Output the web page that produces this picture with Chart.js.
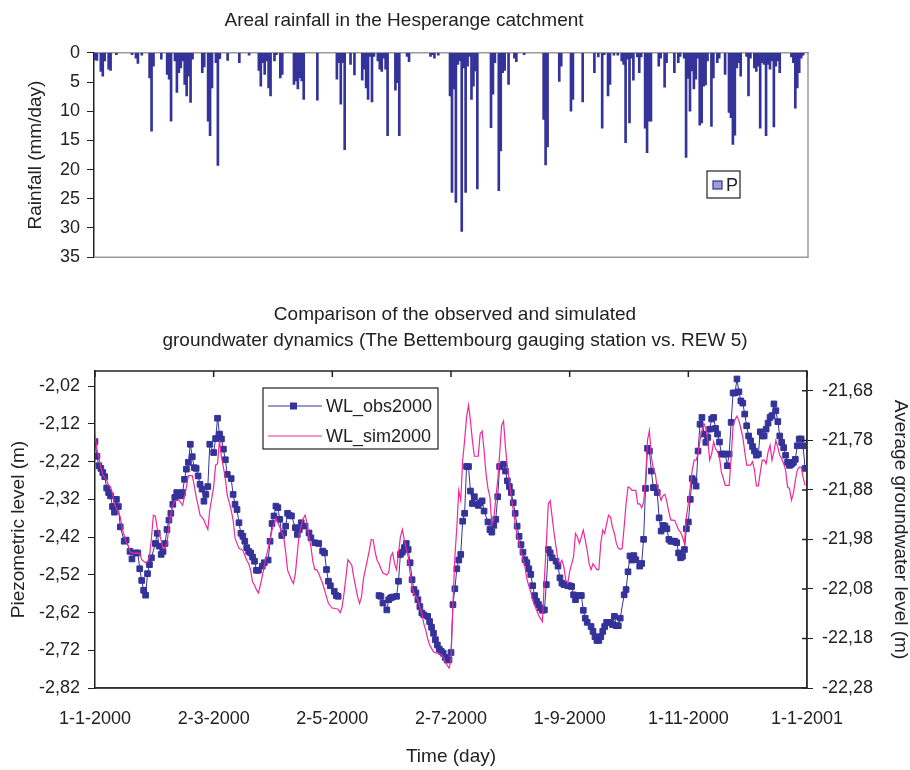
<!DOCTYPE html>
<html>
<head>
<meta charset="utf-8">
<title>Hesperange rainfall and groundwater</title>
<script src="https://cdn.jsdelivr.net/npm/chart.js@4.4.1/dist/chart.umd.min.js"></script>
<style>
  body { margin: 0; background: #fff; }
  #page { position: relative; width: 910px; height: 770px; }
  .panel { position: absolute; left: 0; width: 910px; }
</style>
</head>
<body>
<div id="page">
  <div class="panel" style="top:0;height:275px"><canvas id="rainChart"></canvas></div>
  <div class="panel" style="top:280px;height:490px"><canvas id="gwChart"></canvas></div>
</div>
<script>
// daily areal rainfall (mm/day), day 0 = 1-1-2000; days not listed had no rain
const rainDays = [
  0, 1, 3, 4, 5, 7, 8, 11, 19, 21, 22, 24, 28, 29, 30, 34, 37, 38, 39, 41,
  42, 43, 44, 45, 46, 47, 48, 49, 50, 55, 56, 58, 59, 60, 62, 63, 64, 68, 74, 79,
  84, 85, 86, 87, 88, 89, 90, 92, 93, 95, 96, 102, 103, 104, 105, 106, 107, 114, 124, 125,
  126, 127, 128, 131, 133, 137, 138, 139, 140, 141, 142, 143, 145, 146, 147, 148, 149, 150, 154, 155,
  156, 160, 161, 172, 173, 174, 176, 182, 183, 184, 185, 186, 187, 188, 189, 190, 191, 192, 193, 194,
  195, 196, 203, 204, 205, 207, 208, 209, 210, 212, 215, 216, 220, 230, 231, 232, 238, 239, 244, 245,
  250, 256, 258, 260, 261, 263, 264, 266, 268, 270, 271, 272, 273, 274, 275, 276, 278, 279, 280, 282,
  283, 284, 285, 289, 290, 292, 293, 297, 299, 300, 302, 303, 304, 305, 306, 307, 308, 309, 310, 311,
  312, 313, 314, 316, 317, 319, 320, 323, 325, 326, 327, 328, 329, 330, 331, 334, 335, 336, 338, 339,
  340, 341, 342, 343, 344, 345, 346, 347, 348, 349, 350, 351, 357, 358, 359, 360, 361, 362, 363
];
const rainMm = [
  1.2, 1.3, 3.2, 4.0, 1.4, 2.8, 3.0, 0.3, 0.3, 0.9, 1.8, 0.4, 4.3, 13.4, 2.3, 1.1, 3.7, 4.5, 11.7, 1.4,
  6.8, 3.4, 2.6, 1.4, 5.4, 7.4, 4.0, 8.5, 1.1, 3.4, 2.4, 11.7, 14.2, 6.0, 1.7, 19.3, 1.0, 1.3, 1.7, 0.4,
  3.0, 5.7, 1.7, 3.7, 1.4, 6.0, 7.4, 1.4, 0.3, 4.3, 3.7, 5.4, 4.8, 6.2, 4.3, 4.8, 8.0, 8.1, 4.5, 1.7,
  8.8, 1.7, 16.6, 2.0, 3.8, 4.7, 2.8, 6.0, 8.0, 0.6, 8.4, 0.6, 1.4, 2.8, 3.2, 0.9, 2.8, 14.2, 6.4, 5.1,
  14.2, 0.6, 1.5, 0.6, 0.3, 0.9, 0.4, 7.4, 23.9, 6.2, 25.6, 2.0, 1.4, 30.6, 2.6, 23.9, 2.3, 0.6, 8.0, 5.7,
  3.1, 23.3, 12.8, 7.1, 1.7, 23.6, 16.8, 3.4, 3.0, 5.4, 0.9, 1.5, 0.3, 11.4, 19.2, 16.1, 4.9, 2.3, 10.0, 8.0,
  8.4, 3.4, 0.7, 12.9, 0.3, 7.4, 5.4, 0.4, 0.4, 1.4, 2.0, 15.4, 1.1, 12.0, 0.9, 4.7, 0.7, 3.4, 0.7, 12.9,
  17.1, 11.7, 11.7, 2.3, 0.9, 5.9, 1.7, 3.4, 1.7, 0.6, 0.9, 17.9, 4.4, 10.0, 3.1, 6.2, 4.5, 0.9, 12.4, 12.0,
  5.7, 5.5, 1.4, 12.6, 4.3, 1.7, 0.9, 3.7, 10.2, 11.1, 15.7, 14.1, 2.6, 1.7, 4.0, 0.6, 7.4, 0.9, 2.6, 3.2,
  2.3, 12.9, 1.7, 2.0, 14.2, 2.0, 2.8, 1.4, 12.7, 2.3, 1.4, 3.4, 0.7, 1.7, 9.5, 6.0, 3.4, 0.9, 0.4
];

// observed piezometric level (m), gap in the record between day 125 and 146
const obsDays = [
  0, 1, 2, 3, 4, 5, 6, 7, 8, 9,
  10, 11, 12, 13, 15, 16, 18, 19, 21, 22,
  23, 24, 25, 26, 27, 28, 29, 31, 32, 33,
  34, 35, 36, 37, 38, 39, 40, 41, 42, 44,
  45, 46, 47, 48, 49, 50, 51, 52, 53, 54,
  55, 56, 57, 58, 59, 61, 62, 63, 64, 65,
  66, 67, 68, 70, 71, 72, 73, 74, 75, 76,
  77, 78, 79, 80, 81, 82, 83, 84, 86, 87,
  89, 90, 91, 92, 93, 94, 95, 96, 97, 98,
  99, 100, 101, 103, 104, 105, 106, 108, 110, 111,
  113, 115, 117, 118, 119, 120, 121, 123, 124, 125,
  135,
  146, 147, 148, 150, 151, 152, 153, 155, 156, 157,
  158, 159, 160, 161, 162, 163, 164, 165, 166, 167,
  168, 169, 171, 172, 173, 174, 175, 176, 177, 178,
  179, 180, 181, 182, 183, 184, 185, 186, 187, 188,
  189, 190, 191, 192, 193, 194, 195, 197, 198, 199,
  200, 202, 203, 204, 205, 206, 207, 208, 210, 211,
  212, 213, 214, 215, 216, 217, 218, 219, 220, 221,
  222, 223, 224, 225, 226, 227, 228, 229, 230, 231,
  232, 233, 234, 235, 237, 238, 239, 240, 241, 243,
  244, 245, 246, 247, 249, 250, 251, 252, 253, 255,
  256, 257, 258, 259, 260, 261, 262, 263, 265, 266,
  267, 268, 269, 270, 272, 273, 274, 275, 276, 277,
  278, 280, 281, 282, 283, 284, 285, 286, 287, 288,
  289, 290, 291, 292, 293, 294, 295, 296, 297, 298,
  299, 300, 301, 302, 303, 304, 305, 306, 307, 308,
  309, 310, 311, 312, 313, 314, 315, 316, 317, 318,
  319, 320, 321, 322, 323, 324, 325, 326, 327, 328,
  329, 330, 331, 332, 333, 334, 335, 336, 337, 338,
  339, 340, 341, 342, 343, 344, 345, 346, 347, 348,
  349, 350, 351, 352, 353, 354, 355, 356, 357, 358,
  359, 360, 361, 362, 363, 364, 365
];
const obsLevel = [
  -2.167, -2.206, -2.231, -2.238, -2.249, -2.260, -2.290, -2.302, -2.311, -2.339,
  -2.354, -2.320, -2.339, -2.393, -2.431, -2.428, -2.458, -2.478, -2.462, -2.462,
  -2.504, -2.535, -2.561, -2.574, -2.517, -2.493, -2.475, -2.437, -2.410, -2.444,
  -2.466, -2.458, -2.437, -2.400, -2.375, -2.357, -2.333, -2.315, -2.302, -2.311,
  -2.302, -2.267, -2.240, -2.222, -2.174, -2.207, -2.236, -2.238, -2.258, -2.280,
  -2.293, -2.325, -2.307, -2.286, -2.174, -2.196, -2.159, -2.105, -2.147, -2.160,
  -2.187, -2.215, -2.254, -2.265, -2.307, -2.333, -2.347, -2.382, -2.410, -2.418,
  -2.431, -2.448, -2.458, -2.462, -2.473, -2.484, -2.508, -2.508, -2.497, -2.488,
  -2.481, -2.431, -2.384, -2.364, -2.338, -2.342, -2.373, -2.416, -2.409, -2.391,
  -2.357, -2.363, -2.364, -2.395, -2.413, -2.400, -2.382, -2.391, -2.409, -2.422,
  -2.435, -2.437, -2.457, -2.462, -2.506, -2.537, -2.549, -2.564, -2.575, -2.577,
  null,
  -2.575, -2.577, -2.595, -2.613, -2.586, -2.581, -2.579, -2.577, -2.537, -2.466,
  -2.460, -2.448, -2.437, -2.453, -2.488, -2.533, -2.559, -2.568, -2.586, -2.604,
  -2.621, -2.626, -2.630, -2.644, -2.659, -2.675, -2.692, -2.706, -2.717, -2.723,
  -2.728, -2.739, -2.746, -2.745, -2.726, -2.599, -2.557, -2.504, -2.481, -2.466,
  -2.378, -2.357, -2.233, -2.233, -2.298, -2.331, -2.313, -2.336, -2.329, -2.324,
  -2.351, -2.380, -2.400, -2.407, -2.389, -2.373, -2.313, -2.233, -2.227, -2.245,
  -2.271, -2.286, -2.302, -2.329, -2.357, -2.391, -2.418, -2.440, -2.460, -2.480,
  -2.488, -2.504, -2.519, -2.549, -2.575, -2.590, -2.599, -2.608, -2.614, -2.613,
  -2.546, -2.453, -2.462, -2.475, -2.484, -2.497, -2.528, -2.542, -2.546, -2.549,
  -2.549, -2.551, -2.573, -2.586, -2.575, -2.575, -2.614, -2.635, -2.646, -2.657,
  -2.670, -2.684, -2.694, -2.694, -2.684, -2.670, -2.657, -2.646, -2.646, -2.652,
  -2.630, -2.655, -2.655, -2.635, -2.573, -2.559, -2.512, -2.470, -2.481, -2.469,
  -2.480, -2.497, -2.490, -2.426, -2.291, -2.185, -2.192, -2.245, -2.289, -2.289,
  -2.302, -2.369, -2.404, -2.389, -2.391, -2.398, -2.426, -2.431, -2.431, -2.431,
  -2.435, -2.462, -2.475, -2.471, -2.453, -2.398, -2.380, -2.320, -2.265, -2.271,
  -2.285, -2.192, -2.121, -2.103, -2.147, -2.169, -2.156, -2.134, -2.107, -2.103,
  -2.132, -2.147, -2.168, -2.200, -2.200, -2.200, -2.231, -2.200, -2.116, -2.038,
  -2.038, -2.001, -2.035, -2.059, -2.065, -2.094, -2.125, -2.152, -2.165, -2.180,
  -2.192, -2.203, -2.200, -2.141, -2.152, -2.152, -2.134, -2.118, -2.103, -2.098,
  -2.067, -2.085, -2.114, -2.152, -2.169, -2.183, -2.203, -2.222, -2.230, -2.227,
  -2.222, -2.214, -2.178, -2.160, -2.160, -2.178, -2.238
];

// simulated average groundwater level of REW 5 (m), right axis
const simDays = [
  0, 1, 2, 3, 4, 6, 7, 8, 9, 10,
  12, 13, 14, 15, 16, 17, 18, 20, 21, 23,
  24, 26, 27, 28, 29, 30, 31, 32, 33, 34,
  35, 36, 37, 38, 39, 40, 41, 42, 43, 44,
  45, 46, 47, 48, 50, 51, 52, 53, 54, 55,
  56, 57, 58, 59, 61, 62, 63, 64, 65, 66,
  67, 68, 69, 70, 71, 72, 73, 74, 76, 77,
  78, 79, 80, 81, 82, 83, 84, 85, 86, 87,
  88, 89, 90, 91, 92, 93, 95, 97, 98, 99,
  101, 102, 103, 104, 105, 107, 108, 109, 110, 111,
  112, 113, 114, 115, 117, 118, 119, 120, 122, 123,
  125, 126, 127, 128, 129, 130, 132, 133, 134, 135,
  136, 137, 138, 140, 141, 142, 143, 144, 145, 146,
  147, 148, 150, 151, 152, 153, 154, 155, 156, 157,
  158, 159, 161, 162, 163, 164, 166, 167, 168, 169,
  170, 171, 172, 174, 175, 176, 178, 179, 180, 182,
  183, 184, 185, 186, 187, 188, 189, 190, 191, 192,
  193, 194, 195, 196, 197, 198, 199, 200, 201, 202,
  203, 204, 205, 206, 207, 208, 209, 210, 211, 212,
  213, 214, 215, 216, 217, 218, 219, 220, 221, 222,
  223, 224, 225, 226, 227, 228, 230, 231, 232, 233,
  234, 235, 236, 237, 238, 239, 240, 241, 242, 243,
  244, 246, 247, 248, 249, 250, 251, 252, 253, 254,
  255, 256, 258, 259, 260, 261, 262, 263, 264, 265,
  266, 267, 268, 269, 270, 271, 272, 273, 274, 275,
  276, 278, 279, 280, 281, 282, 283, 284, 285, 286,
  287, 288, 289, 290, 291, 292, 293, 294, 295, 296,
  297, 298, 299, 300, 301, 302, 303, 304, 305, 306,
  307, 308, 309, 310, 311, 312, 313, 314, 315, 316,
  317, 318, 319, 320, 321, 322, 323, 324, 325, 326,
  327, 328, 329, 330, 331, 332, 333, 334, 335, 336,
  337, 338, 339, 340, 341, 342, 343, 344, 345, 346,
  347, 348, 349, 350, 351, 352, 353, 354, 355, 356,
  357, 358, 359, 360, 361, 362, 363, 364, 365
];
const simLevel = [
  -21.767, -21.797, -21.815, -21.834, -21.849, -21.861, -21.871, -21.874, -21.887, -21.908,
  -21.925, -21.935, -21.958, -21.972, -21.985, -21.992, -22.005, -22.008, -22.007, -22.008,
  -22.021, -22.027, -22.025, -22.015, -21.978, -21.931, -21.933, -21.958, -21.968, -21.982,
  -21.998, -21.999, -21.988, -21.955, -21.928, -21.911, -21.902, -21.901, -21.900, -21.905,
  -21.911, -21.894, -21.874, -21.851, -21.851, -21.871, -21.894, -21.911, -21.931, -21.935,
  -21.941, -21.951, -21.960, -21.921, -21.874, -21.830, -21.827, -21.780, -21.814, -21.834,
  -21.857, -21.891, -21.905, -21.921, -21.941, -21.978, -21.988, -21.998, -22.002, -22.012,
  -22.022, -22.029, -22.042, -22.066, -22.072, -22.082, -22.088, -22.072, -22.054, -22.035,
  -22.015, -21.998, -21.982, -21.961, -21.948, -21.938, -21.955, -21.975, -22.005, -22.042,
  -22.062, -22.069, -22.049, -22.008, -21.968, -21.938, -21.931, -21.948, -21.975, -21.995,
  -22.025, -22.041, -22.041, -22.049, -22.069, -22.082, -22.096, -22.109, -22.119, -22.119,
  -22.121, -22.128, -22.117, -22.089, -22.056, -22.021, -22.032, -22.056, -22.076, -22.096,
  -22.109, -22.096, -22.059, -22.022, -22.002, -21.980, -21.981, -22.005, -22.022, -22.029,
  -22.039, -22.048, -22.052, -22.046, -22.015, -22.007, -22.029, -22.041, -22.008, -21.975,
  -21.960, -21.981, -22.015, -22.049, -22.076, -22.089, -22.103, -22.117, -22.129, -22.150,
  -22.163, -22.180, -22.193, -22.207, -22.209, -22.209, -22.213, -22.217, -22.227, -22.240,
  -22.225, -22.109, -22.015, -21.955, -21.881, -21.901, -21.820, -21.780, -21.733, -21.709,
  -21.740, -21.780, -21.812, -21.812, -21.812, -21.767, -21.761, -21.800, -21.847, -21.877,
  -21.894, -21.950, -21.938, -21.898, -21.861, -21.807, -21.750, -21.741, -21.794, -21.834,
  -21.861, -21.894, -21.921, -21.948, -21.972, -21.988, -22.005, -22.019, -22.035, -22.059,
  -22.074, -22.086, -22.103, -22.113, -22.123, -22.133, -22.146, -22.060, -21.990, -21.908,
  -21.902, -21.935, -21.968, -21.995, -22.022, -22.029, -22.022, -22.035, -22.062, -22.069,
  -22.045, -22.015, -21.968, -21.975, -21.988, -21.975, -21.961, -21.981, -22.002, -22.029,
  -22.041, -22.029, -22.041, -22.041, -21.988, -21.961, -21.968, -21.948, -21.931, -21.935,
  -21.955, -21.968, -21.988, -21.998, -22.000, -21.998, -21.955, -21.908, -21.874, -21.876,
  -21.881, -21.881, -21.908, -21.908, -21.916, -21.905, -21.861, -21.780, -21.760, -21.814,
  -21.837, -21.847, -21.874, -21.887, -21.901, -21.891, -21.889, -21.905, -21.925, -21.941,
  -21.941, -21.942, -21.951, -21.961, -21.965, -21.975, -21.988, -21.935, -21.908, -21.874,
  -21.840, -21.820, -21.820, -21.807, -21.780, -21.760, -21.746, -21.756, -21.780, -21.820,
  -21.807, -21.783, -21.797, -21.803, -21.814, -21.844, -21.857, -21.871, -21.871, -21.871,
  -21.815, -21.750, -21.738, -21.731, -21.740, -21.756, -21.773, -21.803, -21.830, -21.830,
  -21.830, -21.823, -21.840, -21.872, -21.872, -21.844, -21.820, -21.820, -21.827, -21.803,
  -21.790, -21.820, -21.803, -21.780, -21.794, -21.810, -21.817, -21.827, -21.840, -21.874,
  -21.877, -21.901, -21.887, -21.861, -21.840, -21.834, -21.834, -21.854, -21.871
];

// axis ticks
const rainTicks = [0, 5, 10, 15, 20, 25, 30, 35];
const xTickDays = [0, 61, 122, 183, 244, 305, 366];
const xTickLabels = ['1-1-2000', '2-3-2000', '2-5-2000', '2-7-2000', '1-9-2000', '1-11-2000', '1-1-2001'];
const leftTicks = [-2.82, -2.72, -2.62, -2.52, -2.42, -2.32, -2.22, -2.12, -2.02];
const rightTicks = [-22.28, -22.18, -22.08, -21.98, -21.88, -21.78, -21.68];

Chart.defaults.font.family = '"Liberation Sans", Arial, sans-serif';
Chart.defaults.color = '#222';

const textColor = '#222';
const comma = v => Number(v).toFixed(2).replace('.', ',');

// right and bottom edges of the plot frame
const framePlugin = {
  id: 'frame',
  afterDatasetsDraw(chart, args, opts) {
    const { ctx, chartArea: a } = chart;
    ctx.save();
    ctx.strokeStyle = opts.color;
    ctx.lineWidth = opts.width;
    ctx.beginPath();
    ctx.moveTo(a.left, a.bottom);
    ctx.lineTo(a.right, a.bottom);
    ctx.lineTo(a.right, a.top);
    ctx.stroke();
    ctx.restore();
  }
};

// Excel-like axis at the top with inward ticks, plus inner halves of the right axis ticks
const topAxisPlugin = {
  id: 'topAxis',
  afterDatasetsDraw(chart) {
    const { ctx, chartArea: a, scales } = chart;
    ctx.save();
    ctx.strokeStyle = '#222';
    ctx.lineWidth = 1.5;
    ctx.beginPath();
    ctx.moveTo(a.left, a.top);
    ctx.lineTo(a.right, a.top);
    scales.x.ticks.forEach(t => {
      const px = scales.x.getPixelForValue(t.value);
      ctx.moveTo(px, a.top);
      ctx.lineTo(px, a.top + 6);
    });
    scales.y2.ticks.forEach(t => {
      const py = scales.y2.getPixelForValue(t.value);
      ctx.moveTo(a.right - 5, py);
      ctx.lineTo(a.right, py);
    });
    ctx.stroke();
    ctx.restore();
  }
};

// boxed legend placed inside the plot
const boxLegendPlugin = {
  id: 'boxLegend',
  afterDraw(chart, args, o) {
    const { ctx } = chart;
    ctx.save();
    ctx.fillStyle = '#fff';
    ctx.fillRect(o.x, o.y, o.w, o.h);
    ctx.strokeStyle = '#222';
    ctx.lineWidth = 1.2;
    ctx.strokeRect(o.x, o.y, o.w, o.h);
    ctx.font = '18px "Liberation Sans", Arial, sans-serif';
    ctx.textBaseline = 'middle';
    chart.data.datasets.forEach((ds, i) => {
      const yy = o.y + o.row0 + i * o.rowGap;
      if (o.kind === 'bar') {
        ctx.fillStyle = '#9ea0d2';
        ctx.fillRect(o.x + 6, yy - 4, 9, 8);
        ctx.strokeStyle = ds.backgroundColor;
        ctx.lineWidth = 1.2;
        ctx.strokeRect(o.x + 6, yy - 4, 9, 8);
      } else {
        ctx.strokeStyle = ds.borderColor;
        ctx.lineWidth = ds.borderWidth;
        ctx.beginPath();
        ctx.moveTo(o.x + 5, yy);
        ctx.lineTo(o.x + o.lineLen, yy);
        ctx.stroke();
        if (ds.pointRadius > 0) {
          ctx.fillStyle = ds.backgroundColor;
          ctx.fillRect(o.x + 27, yy - 3.5, 7, 7);
        }
      }
      ctx.fillStyle = textColor;
      ctx.fillText(ds.label, o.x + o.textX, yy + 1);
    });
    ctx.restore();
  }
};

// rainfall chart
new Chart(document.getElementById('rainChart'), {
  type: 'bar',
  data: {
    datasets: [{
      label: 'P',
      data: rainDays.map((d, i) => ({ x: d, y: rainMm[i] })),
      backgroundColor: '#333399',
      borderWidth: 0,
      barThickness: 2
    }]
  },
  options: {
    responsive: true,
    maintainAspectRatio: false,
    animation: false,
    layout: { padding: { top: 0, left: 0, right: 102, bottom: 17 } },
    plugins: {
      legend: { display: false },
      tooltip: { enabled: false },
      title: {
        display: true,
        text: 'Areal rainfall in the Hesperange catchment',
        color: textColor,
        font: { size: 19, weight: 'normal' },
        padding: { top: 9, bottom: 21 }
      },
      frame: { color: '#9a9a9a', width: 1.5 },
      boxLegend: { kind: 'bar', x: 707, y: 171, w: 33, h: 27, row0: 14, rowGap: 0, textX: 19 }
    },
    scales: {
      x: {
        type: 'linear',
        position: 'top',
        offset: false,
        min: -0.5,
        max: 365.5,
        ticks: { display: false },
        grid: { display: false, offset: false },
        border: { color: '#9a9a9a', width: 1.5 },
        afterFit: s => { s.height = 0; }
      },
      y: {
        min: 0,
        max: 35,
        reverse: true,
        afterBuildTicks: s => { s.ticks = rainTicks.map(v => ({ value: v })); },
        ticks: { color: textColor, font: { size: 18 }, padding: 7 },
        grid: { drawOnChartArea: false, tickLength: 7, color: '#222' },
        border: { color: '#222', width: 1.5 },
        title: {
          display: true,
          text: 'Rainfall (mm/day)',
          color: textColor,
          font: { size: 19 },
          padding: { top: 24, bottom: 0 }
        },
        afterFit: s => { s.width = 94; }
      }
    }
  },
  plugins: [framePlugin, boxLegendPlugin]
});

// groundwater chart
new Chart(document.getElementById('gwChart'), {
  type: 'line',
  data: {
    datasets: [
      {
        label: 'WL_obs2000',
        data: obsDays.map((d, i) => ({ x: d, y: obsLevel[i] })),
        yAxisID: 'y',
        borderColor: '#333399',
        backgroundColor: '#333399',
        borderWidth: 1,
        pointStyle: 'rect',
        pointRadius: 4,
        pointBorderWidth: 1,
        pointBorderColor: '#333399',
        spanGaps: false,
        tension: 0,
        order: 1
      },
      {
        label: 'WL_sim2000',
        data: simDays.map((d, i) => ({ x: d, y: simLevel[i] })),
        yAxisID: 'y2',
        borderColor: '#f0289b',
        backgroundColor: '#f0289b',
        borderWidth: 1.2,
        pointRadius: 0,
        tension: 0,
        order: 0
      }
    ]
  },
  options: {
    responsive: true,
    maintainAspectRatio: false,
    animation: false,
    layout: { padding: 0 },
    plugins: {
      legend: { display: false },
      tooltip: { enabled: false },
      title: {
        display: true,
        text: ['Comparison of the observed and simulated',
               'groundwater dynamics (The Bettembourg gauging station vs. REW 5)'],
        color: textColor,
        font: { size: 19, weight: 'normal', lineHeight: 1.37 },
        padding: { top: 22, bottom: 17 }
      },
      frame: { color: '#333', width: 1.5 },
      boxLegend: { kind: 'line', x: 263, y: 108, w: 175, h: 61, row0: 18, rowGap: 30, lineLen: 59, textX: 63 }
    },
    scales: {
      x: {
        type: 'linear',
        min: 0,
        max: 366,
        afterBuildTicks: s => { s.ticks = xTickDays.map(v => ({ value: v })); },
        ticks: {
          callback: v => xTickLabels[xTickDays.indexOf(v)],
          color: textColor,
          font: { size: 18 },
          padding: 12,
          maxRotation: 0,
          autoSkip: false
        },
        grid: { display: false },
        border: { color: '#333', width: 1.5 },
        title: {
          display: true,
          text: 'Time (day)',
          color: textColor,
          font: { size: 19 },
          padding: { top: 0, bottom: 2 }
        },
        afterFit: s => { s.height = 82; }
      },
      y: {
        position: 'left',
        min: -2.82,
        max: -1.98,
        afterBuildTicks: s => { s.ticks = leftTicks.map(v => ({ value: v })); },
        ticks: { callback: comma, color: textColor, font: { size: 18 }, padding: 8 },
        grid: { drawOnChartArea: false, tickLength: 7, color: '#222' },
        border: { color: '#222', width: 1.5 },
        title: {
          display: true,
          text: 'Piezometric level (m)',
          color: textColor,
          font: { size: 19 },
          padding: { top: 7, bottom: 0 }
        },
        afterFit: s => { s.width = 95; }
      },
      y2: {
        position: 'right',
        min: -22.28,
        max: -21.64,
        afterBuildTicks: s => { s.ticks = rightTicks.map(v => ({ value: v })); },
        ticks: { callback: comma, color: textColor, font: { size: 18 }, padding: 9 },
        grid: { drawOnChartArea: false, tickLength: 6, color: '#222' },
        border: { color: '#222', width: 1.5 },
        title: {
          display: true,
          text: 'Average groundwater level (m)',
          color: textColor,
          font: { size: 19, lineHeight: 1 },
          padding: { top: 0, bottom: 0 }
        },
        afterFit: s => { s.width = 103; }
      }
    }
  },
  plugins: [framePlugin, topAxisPlugin, boxLegendPlugin]
});
</script>
</body>
</html>
